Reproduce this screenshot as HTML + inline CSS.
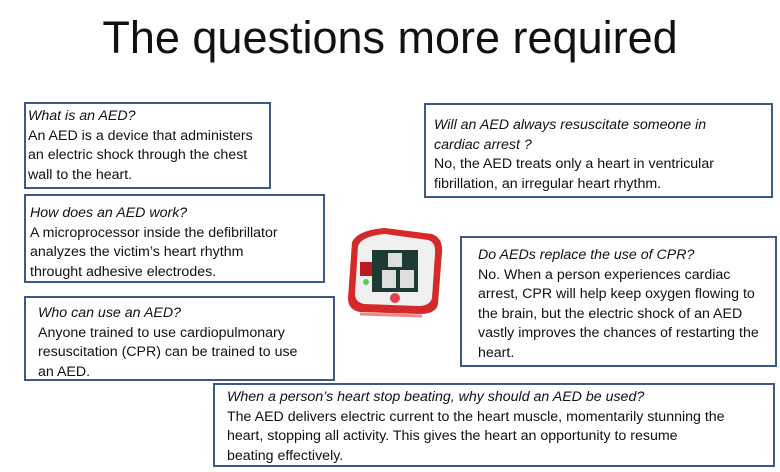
<!DOCTYPE html>
<html><head><meta charset="utf-8"><style>
body{margin:0;width:780px;height:472px;background:#fff;position:relative;overflow:hidden;font-family:"Liberation Sans",sans-serif;color:#111}
.t{position:absolute;left:0;width:780px;top:10px;text-align:center;font-size:45px;line-height:56px;color:#111}
.b{position:absolute;border:2px solid #3d5a87;box-sizing:border-box;font-size:14.2px;line-height:19.5px;padding:3px 0 0 2px;white-space:nowrap}
.b i{display:block}
</style></head><body>
<div class="t">The questions more required</div>
<div class="b" style="left:24px;top:102px;width:247px;height:87px"><i>What is an AED?</i>An AED is a device that administers<br>an electric shock through the chest<br>wall to the heart.</div>
<div class="b" style="left:24px;top:194px;width:301px;height:89px;padding-left:4px;padding-top:8px"><i>How does an AED work?</i>A microprocessor inside the defibrillator<br>analyzes the victim’s heart rhythm<br>throught adhesive electrodes.</div>
<div class="b" style="left:24px;top:296px;width:311px;height:85px;padding-left:12px;padding-top:6px"><i>Who can use an AED?</i>Anyone trained to use cardiopulmonary<br>resuscitation (CPR) can be trained to use<br>an AED.</div>
<div class="b" style="left:424px;top:103px;width:349px;height:95px;padding-left:8px;padding-top:11px"><i>Will an AED always resuscitate someone in<br>cardiac arrest ?</i>No, the AED treats only a heart in ventricular<br>fibrillation, an irregular heart rhythm.</div>
<div class="b" style="left:460px;top:236px;width:317px;height:131px;padding-left:16px;padding-top:8px"><i>Do AEDs replace the use of CPR?</i>No. When a person experiences cardiac<br>arrest, CPR will help keep oxygen flowing to<br>the brain, but the electric shock of an AED<br>vastly improves the chances of restarting the<br>heart.</div>
<div class="b" style="left:213px;top:383px;width:562px;height:84px;padding-left:12px;padding-top:3px"><i>When a person’s heart stop beating, why should an AED be used?</i>The AED delivers electric current to the heart muscle, momentarily stunning the<br>heart, stopping all activity. This gives the heart an opportunity to resume<br>beating effectively.</div>
<svg style="position:absolute;left:340px;top:222px" width="110" height="100" viewBox="0 0 110 100">
<path d="M12 20 Q18 8 45 6 L92 12 Q103 16 102 30 L98 82 Q96 92 80 92 L20 90 Q8 88 8 76 Z" fill="#d42a2a"/>
<path d="M18 24 Q22 14 45 12 L88 18 Q96 20 95 32 L92 76 Q90 84 78 84 L24 82 Q15 80 15 72 Z" fill="#f0f0f0"/>
<rect x="32" y="28" width="46" height="42" fill="#1d3a34"/>
<rect x="48" y="31" width="14" height="14" fill="#ddd"/><rect x="42" y="48" width="14" height="18" fill="#ddd"/><rect x="60" y="48" width="14" height="18" fill="#ddd"/>
<rect x="20" y="40" width="12" height="14" fill="#b81c1c"/>
<circle cx="26" cy="60" r="3" fill="#5c5"/>
<circle cx="55" cy="76" r="5" fill="#e04050"/>
<path d="M20 92 L82 94" stroke="#e88" stroke-width="3"/>
</svg>
</body></html>
